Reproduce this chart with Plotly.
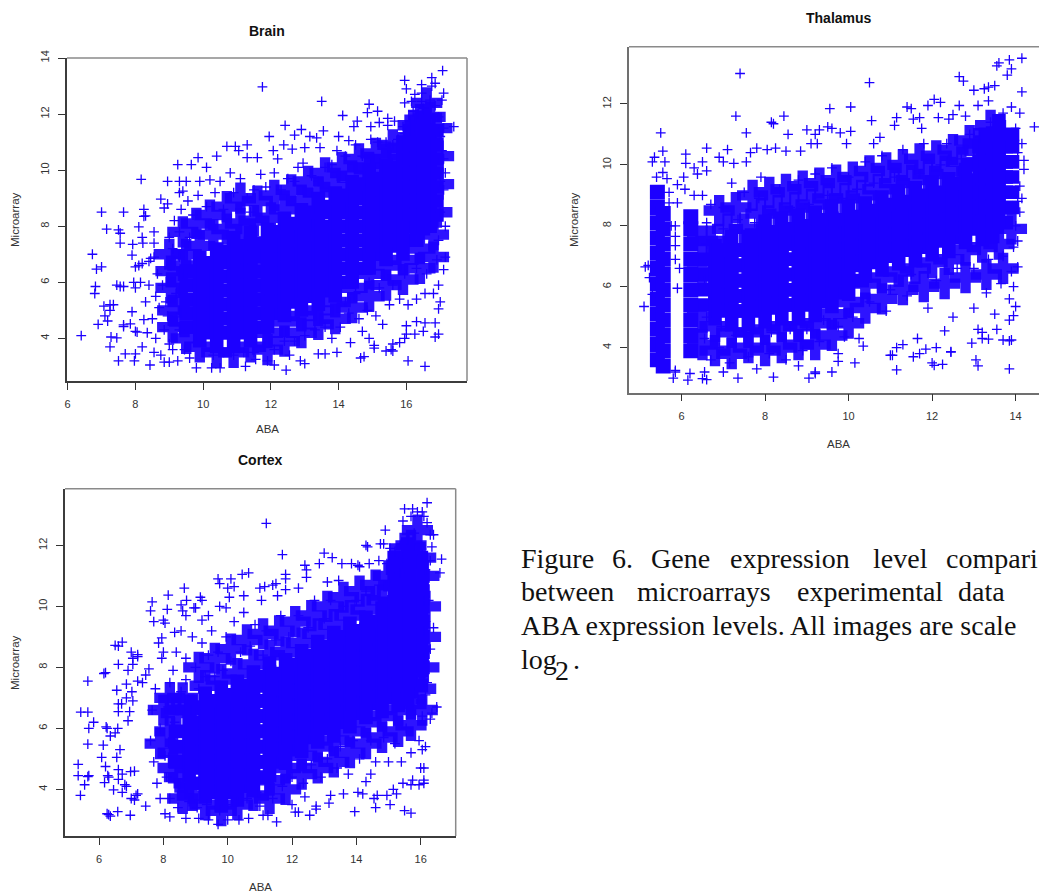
import plotly.graph_objects as go

W, H = 1039, 893
BLUE = "#1c00ff"

brain_points = [(6.4,4.1),(6.73,7.0),(6.85,6.47),(7.0,6.55),(7.0,8.5),(7.15,7.9),(6.82,5.85),(6.8,5.6),(7.07,5.15),(7.25,5.2),(7.35,5.2),(7.25,5.0),(7.1,4.8),(6.9,4.5),(7.18,4.62),(7.28,4.05),(7.45,4.02),(7.25,3.7),(7.5,3.2),(7.7,3.45),(7.97,3.2),(8.0,3.45),(8.43,3.05),(7.65,4.42),(7.65,4.48),(7.85,4.52),(7.9,4.95),(8.0,4.25),(8.05,4.22),(7.45,5.9),(7.55,5.85),(7.65,5.85),(7.5,7.87),(7.55,7.75),(7.55,7.4),(7.65,8.5),(7.92,7.35),(7.9,6.97),(8.0,6.55),(8.1,6.6),(8.2,6.67),(8.1,7.98),(8.2,7.6),(8.22,7.4),(8.17,9.67),(8.25,8.6),(8.25,8.35),(8.3,8.37),(8.55,7.8),(8.75,8.97),(8.55,7.4),(8.55,6.9),(8.4,6.75),(8.85,8.65),(8.95,8.8),(8.95,9.6),(9.25,10.2),(9.3,9.6),(9.5,9.6),(9.65,10.2),(9.85,10.45),(9.3,9.2),(9.4,9.25),(10.1,10.1),(10.4,10.5),(10.7,10.85),(10.95,10.85),(11.3,10.9),(11.3,10.45),(11.05,10.7),(11.6,10.45),(11.75,12.97),(11.95,11.2),(12.07,10.7),(12.2,10.4),(12.38,10.9),(12.42,11.6),(12.7,11.25),(12.63,10.75),(12.9,11.45),(13.0,10.8),(13.15,11.2),(13.35,11.15),(13.5,12.45),(13.55,11.4),(13.45,10.8),(14.0,11.2),(14.12,11.95),(14.3,11.05),(14.55,11.75),(14.45,11.55),(14.85,12.05),(14.9,12.35),(15.15,12.1),(15.2,11.7),(14.95,11.55),(15.45,11.6),(15.45,11.85),(15.65,11.75),(15.9,11.55),(15.95,12.4),(16.15,12.45),(15.95,13.2),(16.0,12.9),(16.1,11.75),(16.25,12.7),(16.45,12.75),(16.45,12.45),(16.45,13.05),(16.75,13.3),(16.85,13.1),(16.75,13.0),(17.07,13.55),(17.1,12.75),(17.05,12.5),(17.4,11.55),(17.1,11.5),(17.1,10.4),(17.15,9.9),(17.1,9.3),(17.15,8.0),(17.15,6.9),(17.1,6.45),(17.0,5.3),(16.95,5.05),(16.85,4.55),(16.85,4.05),(16.95,4.15),(16.55,3.0),(16.05,3.2),(16.0,4.45),(16.3,4.6),(16.55,4.55),(15.95,4.0),(16.0,4.15),(16.25,4.15),(16.5,4.25),(15.6,3.8),(15.8,3.85),(15.4,3.55),(15.55,3.6),(15.6,3.55),(15.05,3.75),(15.05,3.65),(14.65,3.3),(14.75,3.35),(14.9,4.0),(14.7,4.25),(14.35,3.85),(13.95,3.5),(13.6,3.45),(13.4,3.45),(12.45,2.87),(12.87,3.2),(13.0,3.1),(12.55,3.4),(12.1,3.05),(11.9,3.2),(11.55,3.25),(11.25,3.0),(10.5,2.95),(10.25,2.95),(9.8,2.95),(9.25,3.2),(9.0,3.15),(8.85,3.15),(8.75,3.4),
(8.8,5.9),(8.9,5.3),(8.95,4.8),(8.85,4.3),(9.0,3.8),(9.1,3.6),(9.05,6.6),(9.1,7.2),(9.0,7.6),(9.15,8.2),(9.3,7.8),(9.35,8.6),(9.55,8.9),(9.7,8.4),(9.6,7.6),(9.3,6.9),(9.4,6.3),(9.2,5.6),(9.35,4.9),(9.3,4.3),(9.45,3.6),(9.6,3.3),(8.6,5.5),(8.4,5.9),(8.3,5.3),(8.5,4.7),(8.35,4.2),(8.6,4.0),(8.2,3.7),(8.55,3.5),(8.65,6.3),(8.45,6.85),(8.7,5.1),(8.25,4.67),(8.15,6.0),(8.0,5.8),(7.95,6.0),
(9.9,9.6),(9.85,9.1),(10.1,8.7),(10.2,9.65),(10.35,9.2),(10.5,9.6),(10.6,8.6),(10.8,9.9),(10.9,9.2),(11.1,9.7),(11.3,9.0),(11.5,9.3),(11.4,8.5),(11.7,9.85),(11.85,9.4),(12.1,9.9),(12.3,9.3),(12.5,9.7),(12.7,9.6),(12.8,10.1),(12.95,10.25),(13.2,9.8),(13.4,9.6),(13.6,10.1),(13.8,10.2),(13.95,10.7),(14.2,10.5),(14.5,10.9),(14.7,10.5),(14.95,11.1),(15.15,11.0),(15.4,11.0),(15.6,10.9),(15.75,11.1),(15.95,11.3),(16.1,11.4),(16.2,12.1),(16.35,12.0),(16.5,12.2),(16.7,12.5),(16.85,12.3),(16.95,11.9),
(10.3,3.4),(10.6,3.5),(10.9,3.4),(11.2,3.5),(11.5,3.5),(11.8,3.7),(12.1,3.6),(12.4,3.9),(12.7,3.9),(13,4.1),(13.3,4.3),(13.6,4.4),(13.8,4.0),(14.05,4.4),(14.3,4.9),(14.6,4.7),(14.85,5.0),(15.1,4.8),(15.3,4.5),(15.5,5.2),(15.8,5.4),(16.05,5.2),(16.3,5.4),(16.55,5.6),(16.8,5.6),(16.95,5.9),(16.6,6.3),(16.3,6.5),(15.95,6.3),(15.6,5.9),(15.2,5.8),(14.9,6),(14.5,5.6),(14.2,5.3),(16.9,6.8),(16.95,7.5),(17.0,8.5),(17.0,9.6),(17.05,10.7),(17.0,11.2)]

brain_core = [(9.9,[4.4,4.9,5.4,5.9,6.4]),(10.4,[4.2,4.7,5.2,5.7,6.2,6.7]),(10.9,[4.2,4.7,5.2,5.7,6.2,6.7,7.1]),(11.4,[4.4,4.9,5.4,5.9,6.4,6.9,7.3]),(11.9,[4.9,5.4,5.9,6.4,6.9,7.4]),(12.4,[5.3,5.8,6.3,6.8,7.3,7.8]),(12.9,[5.5,6,6.5,7,7.5,8.1]),(13.4,[5.7,6.2,6.7,7.2,7.7,8.5]),(13.9,[6,6.5,7,7.5,8,8.7]),(14.4,[6.5,7,7.5,8,8.5,9.1]),(14.9,[7,7.5,8,8.5,9,9.5]),(15.4,[7.3,7.8,8.3,8.8,9.3,9.7]),(15.9,[7.5,8,8.5,9,9.5,10.1]),(16.3,[8,8.5,9,9.5,10,10.5,11]),(16.5,[8.4,8.9,9.4,9.9,10.4,10.9,11.4])]

brain_haze = [(9.5,7.0),(9.9,7.3),(10.3,7.7),(10.7,7.9),(11.1,8.1),(11.5,8.2),(12,8.3),(12.4,8.6),(12.9,8.9),(13.4,9.2),(13.9,9.4),(14.4,9.8),(14.9,10.1),(15.4,10.4),(15.9,10.8),(16.2,11.6),(9.4,7.8),(9.8,8.1),(10.2,8.4),(10.7,8.7),(11.1,9),(11.6,8.9),(12.1,9.1),(12.6,9.3),(13.1,9.6),(13.6,9.9),(14.1,10.1),(14.6,10.4),(15.1,10.6),(15.6,10.9),(9.5,4),(9.45,4.6),(9.4,5.3),(9.35,6),(9.4,6.6),(9.05,5.8),(9.1,5),(9.05,6.4),(9.0,7),(9.1,4.4),(9.9,3.7),(10.4,3.5),(10.9,3.5),(11.4,3.7),(11.9,4.2),(12.4,4.6),(12.9,4.8),(13.4,5.0),(13.9,5.3),(14.4,5.8),(14.9,6.3),(15.4,6.6),(15.9,6.8),(16.4,7.2),(16.8,7.7),(11.9,3.6),(12.4,3.9),(12.9,4.2),(13.4,4.5),(13.9,4.7),(14.4,5.1),(14.9,5.5),(15.4,5.9),(15.9,6.1),(16.4,6.5),(16.8,6.9),(16.9,8.5),(16.95,9.5),(16.95,10.5),(16.9,11.5),(16.7,11.9),(16.4,11.8),(16.6,12.4)]

thalamus_points = [(5.13,6.65),(5.2,6.7),(5.1,5.35),(5.23,6.3),(5.3,5.75),(5.5,11.05),(5.55,10.45),(5.3,10.1),(5.35,10.25),(5.6,10.1),(5.4,9.6),(5.55,9.75),(5.65,9.55),(5.7,9.1),(5.9,9.35),(5.9,8.75),(5.7,8.75),(5.75,8),(5.85,8),(5.85,7.65),(5.85,7.35),(5.85,6.9),(5.95,6.6),(5.9,5.95),(5.85,3.2),(5.85,3.25),(5.8,3.0),(6.15,2.93),(6.2,3.15),(6.05,9.6),(6.08,9.2),(6.1,10.35),(6.1,10.05),(6.3,9.9),(6.3,9.0),(6.38,9.7),(6.5,9.0),(6.5,10.1),(6.6,10.55),(6.6,9.8),(6.55,3.2),(6.5,2.98),(6.6,2.95),(6.9,10.25),(7.1,10.5),(7.0,10.1),(7.2,9.4),(7.3,11.6),(7.4,13.0),(7.25,10.05),(7.55,11.05),(7.65,10.4),(7.55,10.1),(7.8,10.55),(8.05,10.5),(8.15,11.4),(8.2,11.35),(8.25,10.55),(8.45,11.6),(8.55,11.0),(8.5,10.45),(8.85,10.45),(9.0,11.15),(9.2,11.0),(9.3,11.15),(9.1,10.7),(9.25,10.7),(9.5,11.25),(9.6,11.2),(9.55,11.85),(9.8,11.05),(10.05,11.9),(10.05,11.1),(9.95,10.7),(10.5,12.7),(10.55,11.45),(10.6,10.7),(10.75,10.9),(11.1,11.3),(11.15,11.55),(11.4,11.9),(11.5,11.85),(11.55,11.5),(11.7,11.55),(11.75,11.2),(11.9,11.95),(12.05,12.15),(12.2,12.05),(12.15,11.55),(12.4,11.5),(12.5,11.65),(12.65,11.95),(12.65,12.9),(12.75,12.75),(12.8,11.6),(13.0,12.45),(13.1,11.95),(13.25,12.5),(13.35,12.55),(13.35,12.1),(13.5,12.6),(13.55,13.25),(13.6,13.35),(13.85,13.45),(13.9,13.15),(13.8,12.95),(14.15,13.5),(14.15,12.4),(14.45,11.25),(14.1,11.7),(14.15,10.7),(14.2,10.15),(14.2,9.85),(14.1,9.3),(14.15,8.9),(14.1,8.45),(14.05,7.5),(14.05,6.65),(13.95,6.0),(14.0,5.35),(13.95,5.05),(13.85,4.9),(13.9,4.25),(13.85,4.22),(13.85,3.3),(13.7,4.25),(13.55,4.6),(13.35,4.28),(13.2,4.3),(13.2,4.5),(13.1,4.6),(12.95,4.15),(13.05,3.6),(13.1,3.4),(12.45,3.87),(12.45,3.85),(12.3,4.55),(12.1,4.0),(12.05,3.42),(12.0,3.5),(12.25,3.45),(11.85,3.95),(11.7,3.8),(11.55,3.7),(11.65,4.3),(11.15,3.27),(11.05,3.75),(11.0,3.75),(11.15,4.0),(11.3,4.1),(10.15,3.5),(9.9,4.35),(10.35,4.05),(10.25,4.3),(9.75,3.8),(9.75,3.55),(9.6,3.2),(9.2,3.2),(9.2,3.15),(9.05,3.0),(8.8,3.4),(8.2,3.03),(7.35,3.0),(7.0,3.2),(7.8,3.3),
(6.55,4.3),(6.6,5.0),(6.55,6.2),(6.6,7.4),(6.6,8.1),(6.7,8.7),(6.7,3.6),(6.9,4.0),(6.95,4.7),(7.0,7.9),(7.0,8.6),(7.15,3.5),(7.3,4.4),(7.35,8.2),(7.5,9.1),(7.6,3.7),(7.7,4.5),(7.75,8.1),(7.85,8.9),(7.9,9.6),(8.1,3.8),(8.15,4.5),(8.2,8.4),(8.35,9.2),(8.5,3.6),(8.6,4.6),(8.6,8.6),(8.8,9.5),(8.9,3.9),(9.0,4.6),(9.05,8.7),(9.2,9.7),(9.3,4.2),(9.4,4.9),(9.5,9.0),(9.6,9.9),(9.75,4.7),(9.85,8.9),(10,9.6),(10.1,5.0),(10.2,9.2),(10.4,10.1),(10.5,5.5),(10.6,9.4),(10.8,10.3),(10.9,5.2),(11.0,5.9),(11.1,9.6),(11.3,10.5),(11.4,5.7),(11.5,6.4),(11.7,9.7),(11.8,10.7),(11.9,5.3),(12.1,6.2),(12.2,10.0),(12.35,10.7),(12.5,5.0),(12.6,6.6),(12.7,10.2),(12.9,11.0),(13.0,5.3),(13.0,6.6),(13.15,10.9),(13.3,5.8),(13.35,6.9),(13.4,11.4),(13.5,5.1),(13.65,6.1),(13.7,7.0),(13.7,11.7),(13.9,11.9),(13.95,7.3),(13.9,6.5),(13.85,5.6),(14.0,8.0),(14.05,8.8),(14.05,10.4),(14.0,11.2)]

thalamus_strips = [(5.42,[3.6,4.1,4.6,5.1,5.6,6.1,6.6,7.1,7.6,8.1,8.6,9.1]),(5.56,[3.4,3.9,4.4,4.9,5.4,5.9,6.4,6.9,7.4,7.9,8.4]),(6.22,[3.9,4.4,4.9,5.4,5.9,6.4,6.9,7.4,7.9,8.3])]

thalamus_core = [(6.8,[5.4,5.9,6.4,6.9]),(7.2,[5.2,5.7,6.2,6.7,7.2]),(7.6,[5.2,5.7,6.2,6.7,7.2]),(8.0,[5.3,5.8,6.3,6.8,7.3,7.7]),(8.4,[5.4,5.9,6.4,6.9,7.4,7.8]),(8.8,[5.4,5.9,6.4,6.9,7.4,7.9]),(9.2,[5.5,6,6.5,7,7.5,8]),(9.6,[5.8,6.3,6.8,7.3,7.8,8.2]),(10,[6.2,6.7,7.2,7.7,8.2]),(10.4,[6.8,7.3,7.8,8.3]),(10.8,[7,7.5,8,8.5]),(11.2,[7.2,7.7,8.2,8.7]),(11.6,[7.3,7.8,8.3,8.8]),(12,[7.5,8,8.5,9]),(12.4,[7.6,8.1,8.6,9.1]),(12.8,[7.9,8.4,8.9,9.4]),(13.2,[8,8.5,9,9.5,10]),(13.45,[8.1,8.6,9.1,9.6,10.1,10.6]),(13.6,[8.6,9.1,9.6,10.1,10.6,11])]

thalamus_haze = [(6.7,7.5),(7.1,7.9),(7.5,7.9),(7.9,8.4),(8.3,8.5),(8.7,8.6),(9.1,8.7),(9.5,8.9),(9.9,8.9),(10.3,9),(10.7,9.2),(11.1,9.4),(11.5,9.5),(11.9,9.7),(12.3,9.8),(12.7,10.1),(13.1,10.7),(13.4,11.3),(6.9,8.5),(7.3,8.6),(7.7,9),(8.1,9.1),(8.5,9.2),(8.9,9.3),(9.3,9.4),(9.7,9.5),(10.1,9.6),(10.5,9.8),(10.9,9.9),(11.3,10),(11.7,10.2),(12.1,10.3),(12.5,10.5),(12.9,10.8),(6.8,4.7),(7.2,4.5),(7.6,4.5),(8,4.6),(8.4,4.7),(8.8,4.7),(9.2,4.8),(9.6,5.1),(10,5.5),(10.4,6.1),(10.8,6.3),(11.2,6.5),(11.6,6.6),(12,6.8),(12.4,6.9),(12.8,7.2),(13.2,7.3),(13.6,7.4),(13.9,7.9),(6.8,3.9),(7.2,3.8),(7.6,4.0),(8,3.9),(8.4,4.0),(8.8,4.1),(9.2,4.1),(9.6,4.4),(10,4.8),(10.4,5.3),(10.8,5.6),(11.3,5.9),(11.8,6.0),(12.3,6.1),(12.8,6.3),(13.3,6.4),(13.7,6.6),(6.5,5),(6.5,6.5),(6.5,7.5),(6.5,4.1)]

cortex_points = [(5.43,6.53),(5.65,6.53),(5.65,7.55),(5.68,6.0),(5.83,6.2),(5.65,5.48),(5.35,4.82),(5.35,4.45),(5.42,3.8),(5.55,4.15),(5.68,4.45),(5.65,4.42),(6.08,5.05),(6.13,5.45),(6.2,4.75),(6.15,7.8),(6.2,7.83),(6.22,6.05),(6.25,6.0),(6.35,5.75),(6.5,5.85),(6.58,6.0),(6.5,8.72),(6.6,8.7),(6.72,8.83),(6.6,8.1),(6.55,7.25),(6.6,6.8),(6.7,6.8),(6.6,6.55),(6.55,5.05),(6.65,5.3),(6.6,4.65),(6.17,4.22),(6.27,4.45),(6.3,4.4),(6.45,3.98),(6.6,4.33),(6.72,4.5),(6.8,4.15),(6.85,4.1),(6.72,3.9),(6.25,3.2),(6.3,3.17),(6.35,3.12),(6.58,3.27),(6.97,3.15),(7.0,3.7),(7.1,3.65),(7.15,3.8),(7.2,3.85),(7.45,3.45),(6.98,4.58),(7.1,4.6),(6.9,7.9),(6.85,7.45),(7.05,8.1),(7.0,8.5),(7.05,8.3),(7.2,8.35),(7.2,8.42),(7.2,7.55),(7.35,7.5),(7.02,7.2),(6.85,7.0),(7.05,6.9),(6.95,6.55),(6.9,6.25),(7.45,7.75),(7.55,7.95),(7.6,9.85),(7.65,10.15),(7.7,9.5),(7.85,8.8),(7.95,8.97),(8.0,9.55),(8.05,9.45),(8.12,9.9),(8.15,10.37),(7.95,8.3),(8.0,8.5),(8.65,10.6),(8.72,10.2),(8.55,10.05),(8.6,9.85),(8.7,9.7),(8.95,9.95),(8.55,9.2),(8.35,9.15),(9.15,10.3),(9.2,10.2),(9.0,9.95),(9.2,9.55),(9.4,9.7),(9.7,10.9),(9.75,10.75),(9.75,10.0),(9.95,9.95),(10.0,10.6),(10.1,10.9),(10.2,10.65),(10.05,10.3),(10.45,11.05),(10.65,11.1),(10.5,10.35),(11.0,10.6),(11.15,10.65),(11.2,12.72),(11.4,10.7),(11.5,10.75),(11.05,10.2),(11.7,11.7),(11.8,11.05),(11.8,10.9),(11.8,10.55),(12.2,10.6),(11.55,10.35),(12.4,11.35),(12.45,11.2),(12.45,10.95),(12.85,11.4),(13.0,11.75),(13.25,11.6),(13.1,10.8),(13.55,11.4),(13.45,10.85),(13.85,11.4),(14.05,11.35),(14.1,11.3),(14.3,12.0),(14.35,11.95),(14.4,11.4),(14.75,12.05),(14.85,12.05),(14.9,12.5),(14.7,11.5),(14.95,11.4),(15.05,11.9),(15.2,11.8),(15.4,12.05),(15.45,12.8),(15.5,13.2),(15.75,13.2),(15.7,12.95),(15.9,13.1),(16.05,13.1),(16.1,12.95),(16.2,13.4),(16.2,12.75),(16.3,12.35),(16.4,12.35),(16.35,11.95),(16.65,11.55),(16.6,11.1),(16.3,11.5),(16.4,9.3),(16.3,8.6),(16.25,10.2),(16.5,6.7),(16.35,6.5),(16.3,6.3),(16.2,7.5),(16.15,7.1),(16.05,5.3),(16.15,5.4),(16.1,4.7),(16.0,4.7),(16.1,4.3),(16.1,4.2),(15.95,4.15),(15.7,4.15),(15.75,4.3),(15.45,4.2),(15.7,3.22),(15.5,3.3),(15.05,3.5),(15.25,3.85),(15.15,4.0),(14.95,3.8),(14.65,3.8),(14.6,3.4),(14.55,3.7),(13.95,3.27),(14.05,3.9),(14.2,3.85),(14.3,4.25),(14.45,4.5),(13.6,3.85),(13.15,3.55),(13.2,3.8),(12.55,3.15),(12.75,3.45),(12.75,3.35),(12.2,3.25),(12.1,3.25),(12.0,3.5),(12.4,3.75),(11.52,2.93),(11.25,3.15),(11.1,3.15),(11.0,3.45),(10.65,3.05),(10.35,3.0),(10.0,3.0),(9.7,2.85),(9.4,3.0),(9.1,3.05),(8.7,3.05),(8.2,3.1),(8.05,3.2),
(7.6,5.6),(7.7,4.9),(7.8,4.2),(7.9,3.7),(7.65,6.6),(7.75,7.3),(7.9,6.0),(8.05,5.1),(8.1,4.4),(8.2,3.7),(8.15,6.7),(8.2,7.5),(8.3,7.9),(8.35,6.2),(8.4,8.5),(8.45,3.4),(8.5,4.2),(8.55,7.2),(8.7,7.6),(8.7,8.3),(8.8,3.6),(8.85,6.6),(8.9,9.0),(9.0,8.0),(9.05,3.4),(9.1,7.3),(9.2,8.8),(9.3,7.7),(9.35,3.5),(9.4,8.4),(9.5,9.2),(9.6,7.7),(9.7,8.5),(9.75,3.3),(9.85,7.9),(9.95,9.0),(10.0,3.5),(10.1,8.2),(10.2,9.5),(10.3,3.6),(10.4,8.5),(10.5,9.8),(10.6,3.7),(10.7,8.7),(10.85,9.4),(10.9,3.9),(11.1,8.4),(11.2,9.2),(11.3,4.2),(11.4,3.7),(11.5,8.9),(11.65,9.7),(11.7,4.1),(11.9,9.0),(12.0,4.4),(12.2,9.7),(12.35,4.2),(12.5,9.3),(12.6,4.8),(12.7,10.2),(12.9,4.4),(13.0,9.6),(13.1,5.0),(13.2,10.2),(13.4,4.7),(13.5,5.4),(13.6,10.0),(13.75,4.5),(13.9,5.6),(14,10.2),(14.1,5.0),(14.3,10.5),(14.45,5.6),(14.6,4.9),(14.7,10.7),(14.85,5.7),(15,4.9),(15.05,10.8),(15.2,5.5),(15.4,4.9),(15.35,11.1),(15.45,11.6),(15.55,6.0),(15.7,5.2),(15.6,12.2),(15.8,12.4),(15.95,5.6),(16.05,6.4),(16.0,12.0),(16.1,7.5),(16.1,8.3),(16.1,9.2),(16.1,10.2),(16.15,11.2),(16.05,11.7)]

cortex_core = [(8.8,[4.9,5.4,5.9]),(9.3,[4.2,4.7,5.2,5.7,6.2,6.7]),(9.8,[3.9,4.4,4.9,5.4,5.9,6.4,6.9]),(10.3,[4.1,4.6,5.1,5.6,6.1,6.6,7.1]),(10.8,[4.4,4.9,5.4,5.9,6.4,6.9,7.4]),(11.3,[4.9,5.4,5.9,6.4,6.9,7.4,7.7]),(11.8,[5.3,5.8,6.3,6.8,7.3,7.8]),(12.3,[5.7,6.2,6.7,7.2,7.7,8.1]),(12.8,[6,6.5,7,7.5,8,8.4]),(13.3,[6.2,6.7,7.2,7.7,8.2,8.7]),(13.8,[6.5,7,7.5,8,8.5,9]),(14.3,[6.8,7.3,7.8,8.3,8.8,9.2]),(14.8,[7,7.5,8,8.5,9,9.5]),(15.3,[7.2,7.7,8.2,8.7,9.2,9.7,10.1]),(15.6,[7.4,7.9,8.4,8.9,9.4,9.9,10.4,10.9,11.3,11.6]),(15.65,[8,8.5,9,9.5,10,10.5,11])]

cortex_haze = [(8.9,6.6),(9.3,7.4),(9.8,7.6),(10.3,7.8),(10.8,8.1),(11.3,8.4),(11.8,8.5),(12.3,8.8),(12.8,9.1),(13.3,9.4),(13.8,9.7),(14.3,9.9),(14.8,10.2),(15.2,10.7),(15.4,11.2),(8.6,7.0),(9.1,8),(9.6,8.3),(10.1,8.6),(10.6,8.9),(11.1,9.1),(11.6,9.2),(12.1,9.5),(12.6,9.7),(13.1,10),(13.6,10.3),(14.1,10.5),(14.6,10.7),(15.0,11),(8.3,5.2),(8.2,5.9),(8.4,6.5),(8.5,4.4),(8.8,4.2),(8.9,3.8),(8.6,3.7),(8.8,6.6),(7.9,5.5),(8.0,6.6),(8.2,7.0),(8.3,4.7),(9.3,3.5),(9.8,3.3),(10.3,3.5),(10.8,3.8),(11.3,4.3),(11.8,4.7),(12.3,5.1),(12.8,5.4),(13.3,5.6),(13.8,5.9),(14.3,6.2),(14.8,6.4),(15.3,6.6),(15.7,6.8),(16,7.3),(11.3,3.7),(11.8,4.0),(12.3,4.5),(12.8,4.7),(13.3,4.9),(13.8,5.2),(14.3,5.5),(14.8,5.7),(15.3,5.9),(15.7,6.1),(16.05,6.6),(16.1,8),(16.15,9),(16.15,10),(16.1,11),(16,11.6),(15.7,12),(15.9,12.5),(15.5,11.9)]

panel_titles = ["Brain", "Thalamus", "Cortex"]
x_title = "ABA"
y_title = "Microarray"
brain_xticks = [6, 8, 10, 12, 14, 16]
brain_yticks = [4, 6, 8, 10, 12, 14]
thalamus_xticks = [6, 8, 10, 12, 14]
thalamus_yticks = [4, 6, 8, 10, 12]
cortex_xticks = [6, 8, 10, 12, 14, 16]
cortex_yticks = [4, 6, 8, 10, 12]
caption_words = [("Figure", 519, 558), ("6.", 610, 558), ("Gene", 649, 558), ("expression", 728, 558), ("level", 871, 558), ("compari", 944, 558),
                 ("between", 519, 591), ("microarrays", 635, 591), ("experimental", 795, 591), ("data", 956, 591),
                 ("ABA expression levels. All images are scale", 519, 625), ("log", 519, 659), ("2", 553, 670), (".", 571, 659)]

panels = [
    dict(pts=brain_points, core=brain_core, haze=brain_haze, strips=[], xt=brain_xticks, yt=brain_yticks, box=(67, 467, 58, 381), xr=(5.98, 17.79), yr=(2.48, 14.0),
         title=(267, 31), xl=(267, 429), yl=(15, 220), right=True, lc="#3c3c3c"),
    dict(pts=thalamus_points, core=thalamus_core, haze=thalamus_haze, strips=thalamus_strips, xt=thalamus_xticks, yt=thalamus_yticks, box=(629, 1039, 46.7, 392.7), xr=(4.74, 14.56), yr=(2.52, 13.88),
         title=(838.7, 18), xl=(838.7, 444), yl=(574, 220), right=False, lc="#707070"),
    dict(pts=cortex_points, core=cortex_core, haze=cortex_haze, strips=[], xt=cortex_xticks, yt=cortex_yticks, box=(65, 455.7, 488.7, 836), xr=(4.94, 17.09), yr=(2.47, 13.86),
         title=(260, 460), xl=(260, 887), yl=(15, 663), right=True, lc="#3c3c3c"),
]

fig = go.Figure()
annotations, shapes = [], []
def px(v): return v / W
def py(v): return 1 - v / H
TICK = dict(family="Liberation Sans, Arial", size=11, color="#333333")

for i, (p, name) in enumerate(zip(panels, panel_titles), start=1):
    sfx = "" if i == 1 else str(i)
    core_x = [c[0] for c in p["core"] for _ in c[1]]
    core_y = [y for c in p["core"] for y in c[1]]
    axes = dict(xaxis=f"x{sfx}", yaxis=f"y{sfx}", mode="markers", hoverinfo="skip", showlegend=False)
    fig.add_trace(go.Scatter(x=[q[0] for q in p["haze"]], y=[q[1] for q in p["haze"]],
                             marker=dict(symbol="cross", size=26, opacity=0.92, color=BLUE, line_width=0), **axes))
    fig.add_trace(go.Scatter(x=core_x, y=core_y, marker=dict(symbol="circle", size=18, color=BLUE, line_width=0), **axes))
    fig.add_trace(go.Scatter(x=core_x, y=core_y, marker=dict(symbol="cross", size=34, color=BLUE, line_width=0), **axes))
    if p["strips"]:
        fig.add_trace(go.Scatter(x=[c[0] for c in p["strips"] for _ in c[1]], y=[y for c in p["strips"] for y in c[1]],
                                 marker=dict(symbol="square", size=15, color=BLUE, line_width=0), **axes))
    fig.add_trace(go.Scatter(x=[q[0] for q in p["pts"]], y=[q[1] for q in p["pts"]],
                             marker=dict(symbol="cross-thin", size=7, line=dict(color=BLUE, width=1.3)), **axes))
    x0, x1, y0, y1 = p["box"]
    fig.update_layout({
        f"xaxis{sfx}": dict(domain=[px(x0), px(x1)], range=list(p["xr"]), anchor=f"y{sfx}", tickmode="array", tickvals=p["xt"],
                            ticks="outside", ticklen=7, tickcolor="#333", showgrid=False, zeroline=False, showline=True,
                            linecolor=p["lc"], linewidth=1.5, tickfont=TICK, ticklabelstandoff=5),
        f"yaxis{sfx}": dict(domain=[py(y1), py(y0)], range=list(p["yr"]), anchor=f"x{sfx}", tickmode="array", tickvals=p["yt"],
                            ticks="outside", ticklen=7, tickcolor="#333", tickangle=-90, showgrid=False, zeroline=False, showline=True,
                            linecolor=p["lc"], linewidth=1.5, tickfont=TICK, ticklabelstandoff=5),
    })
    shapes.append(dict(type="line", xref="paper", yref="paper", x0=px(x0), x1=px(x1), y0=py(y0), y1=py(y0), line=dict(color="#8a8a8a", width=1.5)))
    if p["right"]:
        shapes.append(dict(type="line", xref="paper", yref="paper", x0=px(x1), x1=px(x1), y0=py(y0), y1=py(y1), line=dict(color="#8a8a8a", width=1.5)))
    base = dict(xref="paper", yref="paper", showarrow=False, xanchor="center", yanchor="middle")
    annotations.append(dict(text=f"<b>{name}</b>", x=px(p["title"][0]), y=py(p["title"][1]),
                            font=dict(family="Liberation Sans, Arial", size=14, color="#111"), **base))
    annotations.append(dict(text=x_title, x=px(p["xl"][0]), y=py(p["xl"][1]),
                            font=dict(family="Liberation Sans, Arial", size=11.5, color="#333"), **base))
    annotations.append(dict(text=y_title, x=px(p["yl"][0]), y=py(p["yl"][1]), textangle=-90,
                            font=dict(family="Liberation Sans, Arial", size=11.5, color="#333"), **base))

for word, wx, wy in caption_words:
    annotations.append(dict(text=word, x=px(wx), y=py(wy), xref="paper", yref="paper", showarrow=False, xanchor="left", yanchor="middle",
                            font=dict(family="Liberation Serif, Times New Roman", size=28, color="#111")))

fig.update_layout(width=W, height=H, margin=dict(l=0, r=0, t=0, b=0, autoexpand=False), paper_bgcolor="white", plot_bgcolor="white",
                  annotations=annotations, shapes=shapes, showlegend=False)
fig.write_html("out.html", config={"displayModeBar": False},
               post_script="document.body.style.margin='0';document.body.style.overflow='hidden';")
